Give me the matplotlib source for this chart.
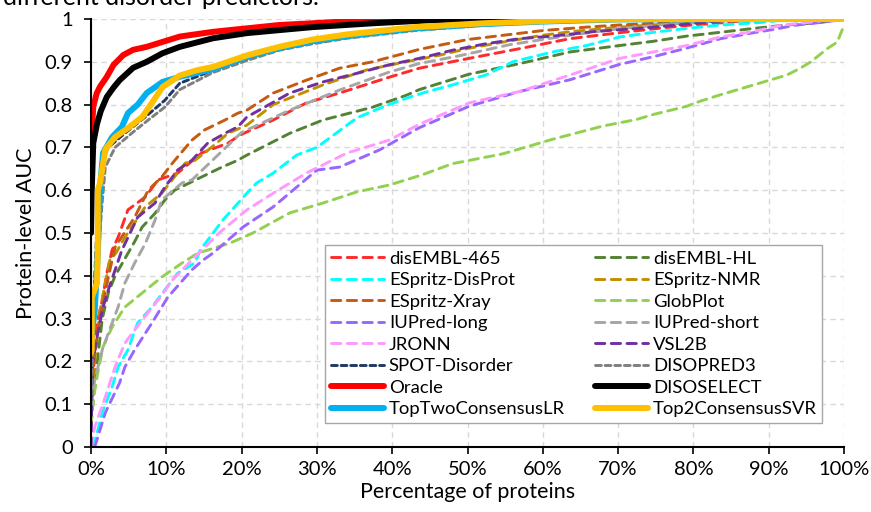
import matplotlib
matplotlib.use("Agg")
import matplotlib.pyplot as plt
from matplotlib.ticker import FuncFormatter

plt.rcParams['font.family'] = ['Lato', 'DejaVu Sans']

# percentage of proteins (x, %) and protein-level AUC (y)
disembl465_x = [0, 0.3, 0.8, 1.5, 2.1, 2.8, 3.6, 4.9, 7.2, 8.9, 11.5, 14.7, 18.2, 19.8, 24.2, 28.6, 33, 39.6, 43.6,
                50.2, 57, 63.6, 70.2, 74.7, 79.1, 83.6, 88, 100]
disembl465_y = [0.08, 0.173, 0.29, 0.343, 0.406, 0.46, 0.49, 0.554, 0.584, 0.624, 0.64, 0.687, 0.71, 0.729, 0.764,
                0.804, 0.827, 0.864, 0.885, 0.908, 0.931, 0.954, 0.968, 0.977, 0.985, 0.991, 0.998, 1.0]

disemblhl_x = [0, 0.5, 1.5, 2.3, 3.2, 4.5, 5.8, 6.8, 8.5, 9.8, 11.1, 14.7, 17.4, 19.5, 20.7, 26.4, 30.8, 37.4, 41.9,
               43.6, 50.2, 57, 63.6, 70.2, 74.7, 79.1, 83.6, 88, 92.4, 96.9, 100]
disemblhl_y = [0.05, 0.15, 0.3, 0.36, 0.40, 0.44, 0.48, 0.514, 0.546, 0.577, 0.60, 0.631, 0.654, 0.67, 0.682, 0.733,
               0.764, 0.794, 0.822, 0.835, 0.871, 0.896, 0.923, 0.938, 0.948, 0.96, 0.969, 0.978, 0.986, 0.992, 1.0]

disprot_x = [0.3, 1.6, 2.8, 3.6, 4.9, 6.2, 8.1, 9.8, 11.5, 13.8, 14.5, 17.5, 20.7, 22, 24.2, 27.3, 30, 31.7, 35.3,
             38.7, 41.9, 44.6, 48, 52.4, 56, 61.3, 65.8, 70.2, 74.7, 79.1, 83.6, 89, 93, 100]
disprot_y = [0.0, 0.086, 0.14, 0.187, 0.227, 0.29, 0.327, 0.367, 0.406, 0.43, 0.46, 0.53, 0.593, 0.617, 0.64, 0.682,
             0.70, 0.722, 0.769, 0.794, 0.815, 0.83, 0.846, 0.869, 0.90, 0.923, 0.938, 0.958, 0.969, 0.978, 0.986,
             0.992, 1.0, 1.0]

nmr_x = [0, 0.5, 1.2, 2.5, 3.3, 4.5, 7.2, 9.4, 12.5, 13.8, 16.0, 18.2, 20.7, 24.2, 30.8, 36.6, 41, 46.2, 50, 54.7,
         60, 64, 70.2, 78, 86, 100]
nmr_y = [0.05, 0.2, 0.32, 0.437, 0.453, 0.49, 0.561, 0.593, 0.663, 0.67, 0.70, 0.733, 0.752, 0.80, 0.846, 0.881,
         0.897, 0.915, 0.931, 0.946, 0.962, 0.971, 0.981, 0.99, 0.998, 1.0]

xray_x = [0, 0.5, 1.2, 1.7, 2.3, 3.2, 5.8, 7.6, 9.4, 10.8, 13.4, 15.1, 17.8, 19.5, 20.7, 24.2, 28.6, 33, 37.4, 43.6,
          50, 60, 65.8, 70.2, 78.5, 85, 100]
xray_y = [0.12, 0.22, 0.304, 0.343, 0.397, 0.467, 0.537, 0.60, 0.631, 0.663, 0.717, 0.741, 0.764, 0.78, 0.787,
          0.827, 0.857, 0.885, 0.90, 0.929, 0.952, 0.973, 0.981, 0.986, 0.993, 1.0, 1.0]

globplot_x = [0, 0.3, 0.9, 1.6, 2.8, 4.5, 6.8, 9.4, 12.1, 14.2, 18.4, 21.5, 26.4, 30.8, 35.3, 39.6, 44, 48, 54.7,
              61.3, 68, 72.4, 74.7, 79.1, 80.9, 83.6, 88, 92.4, 94.2, 95.6, 97.8, 99.1, 100]
globplot_y = [0.05, 0.11, 0.173, 0.234, 0.28, 0.327, 0.36, 0.397, 0.43, 0.453, 0.476, 0.50, 0.547, 0.57, 0.596,
              0.612, 0.636, 0.662, 0.685, 0.719, 0.75, 0.765, 0.777, 0.796, 0.808, 0.823, 0.846, 0.869, 0.885, 0.90,
              0.931, 0.946, 0.985]

iupl_x = [0.5, 1.9, 3.8, 4.5, 5.8, 8.1, 10.2, 13.4, 14.9, 16.2, 20.2, 24.2, 30, 33, 38.3, 43.6, 50.2, 57, 63.6, 70.2,
          74.7, 79.1, 83.6, 88, 91.1, 93.3, 96.9, 99.5, 100]
iupl_y = [0.0, 0.08, 0.15, 0.187, 0.227, 0.29, 0.35, 0.414, 0.437, 0.453, 0.514, 0.561, 0.647, 0.654, 0.694, 0.746,
          0.796, 0.831, 0.858, 0.894, 0.912, 0.932, 0.954, 0.968, 0.977, 0.985, 0.992, 0.998, 1.0]

iups_x = [0, 0.5, 1.5, 2.3, 3.6, 4.5, 5.8, 7.2, 8.5, 9.4, 12.1, 13.4, 20, 26.4, 33, 39.6, 43.6, 48.9, 55.6, 63.6,
          70, 78, 86, 100]
iups_y = [0.1, 0.157, 0.227, 0.266, 0.327, 0.383, 0.43, 0.475, 0.53, 0.577, 0.617, 0.624, 0.735, 0.787, 0.834,
          0.876, 0.896, 0.914, 0.94, 0.962, 0.977, 0.99, 0.998, 1.0]

jronn_x = [0, 0.5, 1.9, 3.2, 4.5, 6.8, 8.9, 10.8, 13.4, 17, 20.7, 24.2, 28.6, 34, 39.6, 43.6, 50.2, 57, 63.6, 70.2,
           74.7, 79.1, 83.6, 88, 91.6, 94.7, 98, 100]
jronn_y = [0.0, 0.047, 0.117, 0.187, 0.243, 0.297, 0.343, 0.39, 0.437, 0.50, 0.554, 0.593, 0.64, 0.687, 0.717, 0.754,
           0.804, 0.831, 0.869, 0.908, 0.923, 0.938, 0.958, 0.971, 0.985, 0.991, 0.998, 1.0]

vsl2b_x = [0, 0.1, 0.2, 0.9, 1.6, 2.3, 4.1, 6.2, 8.5, 9.8, 11.5, 13.4, 15.5, 17.8, 19.5, 20.7, 26.4, 30.8, 35.3,
           39.6, 43.6, 48, 52.4, 56.9, 61.3, 67, 72, 74.7, 79.1, 85, 100]
vsl2b_y = [0.0, 0.11, 0.196, 0.266, 0.327, 0.367, 0.46, 0.537, 0.57, 0.607, 0.647, 0.67, 0.71, 0.733, 0.748, 0.771,
           0.827, 0.853, 0.873, 0.893, 0.908, 0.927, 0.942, 0.954, 0.96, 0.971, 0.977, 0.981, 0.988, 0.998, 1.0]

spot_x = [0, 0.5, 1.0, 1.5, 2.3, 4.5, 7.2, 9.8, 11.8, 16.2, 20.7, 25, 29.4, 34, 43, 52, 60, 75, 100]
spot_y = [0.15, 0.4, 0.6, 0.67, 0.70, 0.733, 0.771, 0.81, 0.85, 0.88, 0.908, 0.93, 0.945, 0.958, 0.975, 0.986,
          0.993, 1.0, 1.0]

disopred_x = [0, 0.3, 0.8, 1.2, 1.4, 1.9, 3.2, 5.4, 7.6, 9.8, 11.8, 16.2, 20.7, 25, 29.4, 34, 43, 52, 60, 75, 100]
disopred_y = [0.1, 0.25, 0.4, 0.5, 0.554, 0.654, 0.70, 0.733, 0.764, 0.794, 0.835, 0.875, 0.903, 0.927, 0.942,
              0.955, 0.973, 0.985, 0.992, 0.999, 1.0]

oracle_x = [0, 0.1, 0.3, 0.75, 1.2, 2.1, 3.0, 4.3, 5.6, 7.4, 9.6, 11.8, 16.2, 20.6, 25, 29.4, 37.4, 45, 100]
oracle_y = [0.72, 0.733, 0.795, 0.826, 0.842, 0.865, 0.893, 0.916, 0.928, 0.935, 0.947, 0.959, 0.970, 0.978, 0.986,
            0.99, 0.998, 1.0, 1.0]

disoselect_x = [0, 0.1, 0.3, 0.8, 1.3, 2.1, 3.0, 3.8, 5.6, 7.4, 9.5, 11.8, 16.2, 20.7, 25, 29.4, 37.4, 45, 52, 100]
disoselect_y = [0.50, 0.60, 0.71, 0.755, 0.785, 0.818, 0.84, 0.857, 0.886, 0.90, 0.92, 0.935, 0.955, 0.967, 0.974,
                0.981, 0.99, 0.997, 1.0, 1.0]

lr_x = [0, 0.5, 0.9, 1.2, 1.6, 2.8, 4.1, 4.9, 6.2, 7.4, 9.5, 11.8, 16.2, 20.7, 25, 29.4, 34, 43, 52, 60, 70, 100]
lr_y = [0.25, 0.32, 0.45, 0.607, 0.687, 0.724, 0.748, 0.78, 0.80, 0.827, 0.853, 0.865, 0.883, 0.912, 0.932, 0.948,
        0.96, 0.978, 0.988, 0.994, 0.999, 1.0]

svr_x = [0, 0.1, 0.1, 0.8, 0.9, 0.9, 1.2, 1.9, 2.1, 3.2, 4.9, 6.8, 8.1, 9.5, 11.8, 14, 16.2, 20.7, 25, 29.4, 34, 43,
         52, 60, 65, 72, 100]
svr_y = [0.22, 0.227, 0.35, 0.383, 0.46, 0.60, 0.617, 0.694, 0.70, 0.724, 0.745, 0.771, 0.804, 0.841, 0.868, 0.88,
         0.888, 0.915, 0.935, 0.952, 0.964, 0.981, 0.99, 0.995, 0.998, 1.0, 1.0]

long_dash = (3.2, 2.2)
short_dash = (2, 1.3)

series = [
    ("disEMBL-465", disembl465_x, disembl465_y, "#FF2A2A", long_dash),
    ("disEMBL-HL", disemblhl_x, disemblhl_y, "#548235", long_dash),
    ("ESpritz-DisProt", disprot_x, disprot_y, "#00FFFF", long_dash),
    ("ESpritz-NMR", nmr_x, nmr_y, "#BF9000", long_dash),
    ("ESpritz-Xray", xray_x, xray_y, "#C55A11", long_dash),
    ("GlobPlot", globplot_x, globplot_y, "#92D050", long_dash),
    ("IUPred-long", iupl_x, iupl_y, "#9966FF", long_dash),
    ("IUPred-short", iups_x, iups_y, "#A6A6A6", long_dash),
    ("JRONN", jronn_x, jronn_y, "#FF99FF", long_dash),
    ("VSL2B", vsl2b_x, vsl2b_y, "#7030A0", long_dash),
    ("SPOT-Disorder", spot_x, spot_y, "#203864", short_dash),
    ("DISOPRED3", disopred_x, disopred_y, "#7F7F7F", short_dash),
    ("Oracle", oracle_x, oracle_y, "#FF0000", None),
    ("DISOSELECT", disoselect_x, disoselect_y, "#000000", None),
    ("TopTwoConsensusLR", lr_x, lr_y, "#00B0F0", None),
    ("Top2ConsensusSVR", svr_x, svr_y, "#FFC000", None),
]

fig = plt.figure(figsize=(8.71, 5.12), dpi=100)
ax = fig.add_axes([91 / 871, 1 - 447 / 512, 753 / 871, 428 / 512])

handles = []
for name, xs, ys, color, dash in series:
    if dash is None:
        h, = ax.plot(xs, ys, color=color, lw=4.3, label=name, solid_capstyle='round', solid_joinstyle='round')
    else:
        h, = ax.plot(xs, ys, color=color, lw=2.1, label=name, dashes=dash, dash_capstyle='round')
    handles.append(h)

ax.set_xlim(0, 100)
ax.set_ylim(0, 1)
ax.set_xticks(range(0, 101, 10))
ax.set_yticks([i / 10 for i in range(11)])
ax.xaxis.set_major_formatter(FuncFormatter(lambda v, p: f"{int(v)}%"))
ax.yaxis.set_major_formatter(FuncFormatter(lambda v, p: "0" if v == 0 else ("1" if v == 1 else f"{v:.1f}")))
ax.tick_params(axis='both', labelsize=14.5, direction='out', length=5, width=1.2, colors='black')
ax.tick_params(axis='x', pad=5)
ax.tick_params(axis='y', pad=8)

ax.grid(True, color='#D9D9D9', lw=1, dashes=(4, 3))
ax.set_axisbelow(True)
for side in ['top', 'right']:
    ax.spines[side].set_visible(False)
for side in ['left', 'bottom']:
    ax.spines[side].set_linewidth(1.5)
    ax.spines[side].set_color('black')

ax.set_xlabel("Percentage of proteins", fontsize=15.5, labelpad=3)
ax.set_ylabel("Protein-level AUC", fontsize=15.5, labelpad=6)

# Excel fills the 2-column legend row by row
order = handles[0::2] + handles[1::2]
leg = ax.legend(handles=order, labels=[h.get_label() for h in order], ncol=2, loc='upper left',
                bbox_to_anchor=(0.311, 0.472), borderaxespad=0, fontsize=13.3, frameon=True, fancybox=False,
                edgecolor='#A6A6A6', framealpha=1, handlelength=2.9, handletextpad=0.25, columnspacing=1.6,
                labelspacing=0.3, borderpad=0.3)
leg.get_frame().set_linewidth(1)

fig.text(0.003, 1 - 5 / 512, "different disorder predictors.", fontsize=18, va='baseline')

fig.savefig("out.png", dpi=100)
